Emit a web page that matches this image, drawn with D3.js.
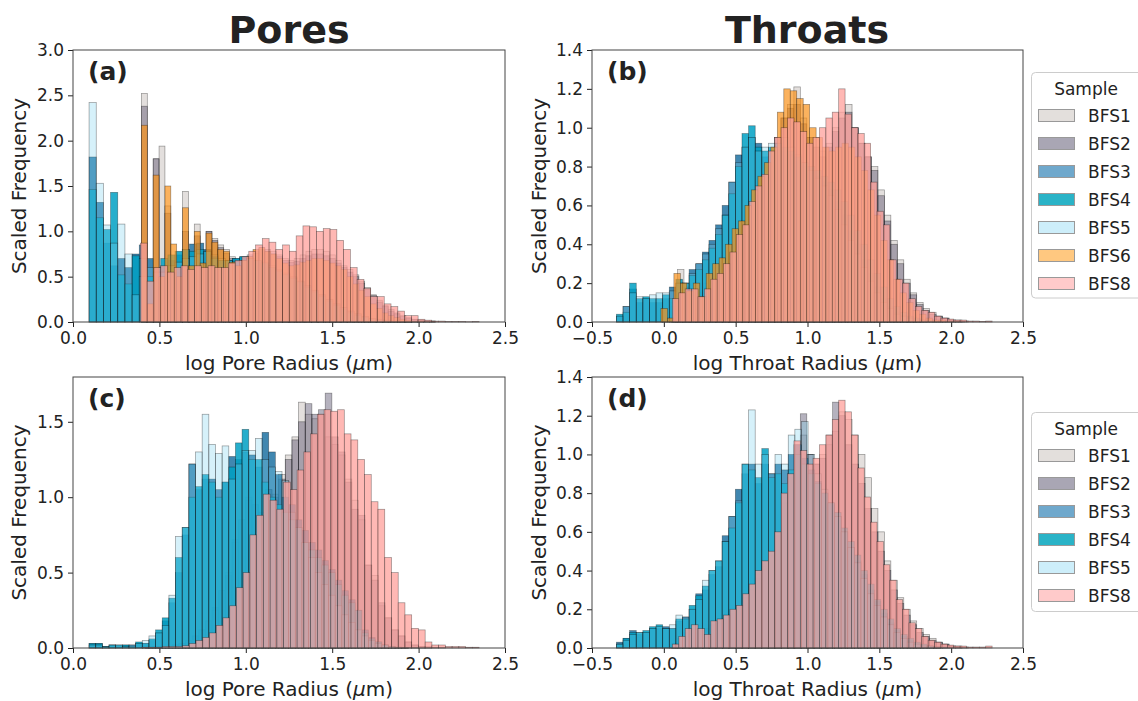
<!DOCTYPE html>
<html>
<head>
<meta charset="utf-8">
<script src="https://cdn.jsdelivr.net/npm/d3@7"></script>
<style>
  body { margin: 0; background: #fff; }
  text { font-family: "DejaVu Sans", sans-serif; fill: #222; }
</style>
</head>
<body>
<svg id="fig" width="1138" height="701"></svg>
<script>
// ---- data: scaled frequency per bin, each series has its own first bin edge and bin width ----
const samplesTop = ["BFS1", "BFS2", "BFS3", "BFS4", "BFS5", "BFS6", "BFS8"];
const samplesBottom = ["BFS1", "BFS2", "BFS3", "BFS4", "BFS5", "BFS8"];

// (a) pores, top row
const aStart = [0.396, 0.396, 0.093, 0.093, 0.093, 0.396, 0.39];
const aWidth = [0.034, 0.034, 0.0415, 0.0415, 0.0415, 0.034, 0.0392];
const a_BFS1 = [2.52, 0.3, 1.8, 1.94, 1.28, 0.55, 0.6, 1.44, 0.62, 1.08, 0.72, 1.0, 0.92, 0.85, 0.8, 0.72, 0.68, 0.7, 0.74, 0.78, 0.82, 0.8, 0.78, 0.74, 0.7, 0.68, 0.7, 0.74, 0.78, 0.8, 0.8, 0.78, 0.74, 0.68, 0.62, 0.58, 0.52, 0.45, 0.38, 0.3, 0.24, 0.18, 0.14, 0.1, 0.07, 0.05, 0.03, 0.02, 0.01, 0.01];
const a_BFS2 = [2.38, 0.2, 1.8, 0.5, 1.2, 0.5, 0.55, 1.0, 0.58, 0.95, 0.65, 1.0, 0.9, 0.82, 0.76, 0.7, 0.66, 0.68, 0.72, 0.76, 0.8, 0.78, 0.75, 0.72, 0.68, 0.66, 0.67, 0.7, 0.73, 0.75, 0.75, 0.73, 0.7, 0.65, 0.6, 0.55, 0.5, 0.43, 0.36, 0.29, 0.22, 0.17, 0.12, 0.09, 0.06, 0.04, 0.03, 0.02, 0.01, 0.01];
const a_BFS3 = [1.82, 0, 1.32, 0, 0.87, 0.62, 0.7, 0.6, 0.75, 0.85, 0.7, 0.55, 0.62, 0.68, 0.74, 0.8, 0.86, 0.87, 0.8, 0.72, 0.68, 0.68, 0.7, 0.72, 0.7, 0.67, 0.64, 0.6, 0.57, 0.53, 0.49, 0.45, 0.4, 0.35, 0.3, 0.25, 0.2, 0.16, 0.12, 0.09, 0.06, 0.04, 0.03, 0.02, 0.01, 0.01, 0.005, 0.003];
const a_BFS4 = [1.46, 0, 1.15, 0, 1.02, 1.43, 0.52, 0.42, 0.73, 0.7, 0.5, 0.6, 0.7, 0.74, 0.78, 0.8, 0.78, 0.8, 0.78, 0.7, 0.68, 0.68, 0.7, 0.72, 0.7, 0.68, 0.65, 0.6, 0.56, 0.52, 0.48, 0.44, 0.38, 0.33, 0.28, 0.23, 0.18, 0.14, 0.1, 0.07, 0.05, 0.03, 0.02, 0.01, 0.01, 0.005, 0.003];
const a_BFS5 = [2.42, 0, 1.53, 1.07, 0.87, 1.08, 0.75, 0.3, 0.5, 0.6, 0.55, 0.55, 0.62, 0.66, 0.7, 0.72, 0.75, 0.78, 0.74, 0.7, 0.68, 0.67, 0.68, 0.7, 0.68, 0.66, 0.62, 0.58, 0.54, 0.5, 0.45, 0.4, 0.35, 0.3, 0.25, 0.2, 0.16, 0.12, 0.09, 0.06, 0.04, 0.03, 0.02, 0.01, 0.01, 0.005];
const a_BFS6 = [2.17, 0.2, 1.62, 0.5, 1.5, 0.86, 0.5, 1.26, 0.62, 1.0, 0.65, 0.98, 0.88, 0.8, 0.78, 0.66, 0.62, 0.68, 0.72, 0.8, 0.82, 0.78, 0.75, 0.7, 0.65, 0.62, 0.63, 0.66, 0.68, 0.7, 0.7, 0.68, 0.65, 0.62, 0.58, 0.5, 0.42, 0.35, 0.28, 0.2, 0.15, 0.1, 0.07, 0.05, 0.03, 0.02, 0.01, 0.01, 0.005, 0.005];
const a_BFS8 = [0.87, 0.45, 0.6, 0.62, 0.55, 0.6, 0.62, 0.58, 0.62, 0.6, 0.62, 0.6, 0.6, 0.65, 0.68, 0.72, 0.78, 0.85, 0.92, 0.88, 0.8, 0.85, 0.78, 0.95, 1.06, 1.05, 1.0, 1.03, 1.02, 0.9, 0.8, 0.6, 0.47, 0.37, 0.28, 0.28, 0.2, 0.17, 0.12, 0.07, 0.07, 0.03, 0.02, 0.01, 0.01, 0.005, 0.005, 0.005, 0.003, 0.005];

// (b) throats, top row
const bStart = [0.05, 0.05, -0.33, -0.33, -0.33, -0.02, 0.06];
const bWidth = [0.045, 0.045, 0.046, 0.046, 0.046, 0.045, 0.0445];
const b_BFS1 = [0.1, 0.27, 0.2, 0.15, 0.15, 0.2, 0.22, 0.25, 0.3, 0.35, 0.42, 0.5, 0.6, 0.68, 0.75, 0.85, 0.95, 1.05, 1.12, 1.21, 1.05, 0.95, 0.9, 0.88, 0.92, 1.0, 1.08, 1.12, 1.0, 0.92, 0.85, 0.8, 0.68, 0.55, 0.42, 0.32, 0.22, 0.15, 0.1, 0.07, 0.05, 0.03, 0.02, 0.01, 0.01, 0.005];
const b_BFS2 = [0.08, 0.2, 0.18, 0.15, 0.14, 0.18, 0.2, 0.24, 0.28, 0.33, 0.4, 0.48, 0.58, 0.65, 0.75, 0.85, 0.95, 1.05, 1.1, 1.12, 1.02, 0.95, 0.9, 0.85, 0.9, 0.98, 1.05, 1.08, 1.0, 0.92, 0.85, 0.78, 0.65, 0.52, 0.4, 0.3, 0.2, 0.14, 0.09, 0.06, 0.04, 0.03, 0.02, 0.01, 0.005];
const b_BFS3 = [0.03, 0.08, 0.17, 0.1, 0.12, 0.1, 0.1, 0.12, 0.18, 0.2, 0.18, 0.27, 0.3, 0.36, 0.42, 0.5, 0.6, 0.72, 0.86, 0.9, 0.95, 0.92, 0.85, 0.88, 0.9, 0.88, 0.86, 0.83, 0.8, 0.78, 0.75, 0.72, 0.68, 0.62, 0.55, 0.47, 0.4, 0.32, 0.25, 0.18, 0.12, 0.08, 0.05, 0.03, 0.02, 0.01, 0.01];
const b_BFS4 = [0.04, 0.05, 0.2, 0.12, 0.13, 0.12, 0.12, 0.14, 0.12, 0.22, 0.2, 0.24, 0.27, 0.32, 0.38, 0.45, 0.55, 0.66, 0.8, 0.97, 1.01, 0.9, 0.88, 0.9, 0.92, 0.9, 0.88, 0.85, 0.82, 0.8, 0.78, 0.75, 0.72, 0.68, 0.62, 0.55, 0.47, 0.4, 0.32, 0.25, 0.18, 0.12, 0.08, 0.05, 0.03, 0.02, 0.01, 0.01, 0.005, 0.005];
const b_BFS5 = [0.03, 0.08, 0.15, 0.13, 0.12, 0.14, 0.15, 0.15, 0.16, 0.2, 0.2, 0.25, 0.3, 0.35, 0.4, 0.48, 0.55, 0.72, 0.82, 0.9, 0.95, 0.88, 0.9, 0.92, 0.92, 0.95, 0.9, 0.86, 0.82, 0.78, 0.74, 0.7, 0.65, 0.58, 0.5, 0.42, 0.35, 0.28, 0.21, 0.15, 0.1, 0.07, 0.04, 0.03, 0.02, 0.01];
const b_BFS6 = [0.07, 0.02, 0.25, 0.2, 0.16, 0.2, 0.13, 0.25, 0.3, 0.33, 0.4, 0.48, 0.52, 0.6, 0.68, 0.75, 0.82, 0.9, 1.08, 1.2, 1.19, 1.15, 1.12, 1.0, 0.95, 0.9, 0.88, 0.9, 0.92, 0.9, 0.85, 0.78, 0.68, 0.55, 0.42, 0.32, 0.22, 0.15, 0.1, 0.06, 0.04, 0.02, 0.01, 0.01, 0.005, 0.003, 0.002];
const b_BFS8 = [0.12, 0.15, 0.17, 0.17, 0.13, 0.17, 0.22, 0.25, 0.3, 0.36, 0.45, 0.5, 0.62, 0.7, 0.76, 0.88, 0.95, 1.0, 1.05, 1.03, 0.98, 0.92, 0.95, 1.0, 1.05, 1.08, 1.2, 1.07, 1.0, 0.97, 0.92, 0.72, 0.57, 0.5, 0.32, 0.22, 0.2, 0.12, 0.08, 0.06, 0.05, 0.03, 0.02, 0.015, 0.01, 0.01, 0.005, 0.005, 0.003, 0.005];

// (c) pores, bottom row
const cStart = [0.42, 0.42, 0.093, 0.093, 0.093, 0.40];
const cWidth = [0.0385, 0.0385, 0.0385, 0.0385, 0.0385, 0.039];
const c_BFS1 = [0, 0, 0, 0.005, 0.01, 0.01, 0.01, 0.02, 0.03, 0.05, 0.08, 0.12, 0.18, 0.25, 0.38, 0.5, 0.7, 0.85, 1.0, 0.95, 0.9, 1.05, 1.02, 1.15, 1.28, 1.4, 1.63, 1.55, 1.52, 1.55, 1.4, 1.35, 1.28, 1.12, 0.98, 0.85, 0.55, 0.48, 0.28, 0.2, 0.12, 0.08, 0.04, 0.02, 0.01, 0.01, 0.005, 0.005];
const c_BFS2 = [0, 0, 0, 0.005, 0.005, 0.01, 0.01, 0.02, 0.03, 0.05, 0.08, 0.12, 0.18, 0.27, 0.38, 0.48, 0.72, 0.85, 0.98, 0.95, 0.9, 1.05, 1.0, 1.12, 1.25, 1.38, 1.5, 1.62, 1.55, 1.58, 1.69, 1.4, 1.3, 1.1, 0.92, 0.88, 0.55, 0.45, 0.3, 0.2, 0.12, 0.08, 0.04, 0.02, 0.01, 0.005];
const c_BFS3 = [0.03, 0, 0.03, 0, 0.01, 0.02, 0.01, 0.02, 0.02, 0.03, 0.03, 0.05, 0.1, 0.18, 0.3, 0.5, 0.75, 1.22, 1.05, 1.12, 1.12, 1.05, 1.1, 1.27, 1.25, 1.3, 1.28, 1.2, 1.43, 1.3, 1.15, 1.0, 0.95, 0.85, 0.78, 0.7, 0.65, 0.58, 0.52, 0.45, 0.38, 0.32, 0.25, 0.12, 0.07, 0.04, 0.02, 0.01, 0.005, 0.003];
const c_BFS4 = [0.03, 0, 0.03, 0, 0.01, 0.02, 0.02, 0.02, 0.01, 0.04, 0.03, 0.06, 0.12, 0.2, 0.33, 0.6, 0.8, 1.0, 1.07, 1.15, 1.1, 1.0, 1.1, 1.2, 1.36, 1.45, 1.25, 1.25, 1.1, 1.0, 0.95, 0.9, 0.85, 0.8, 0.7, 0.65, 0.6, 0.55, 0.5, 0.42, 0.35, 0.3, 0.25, 0.1, 0.06, 0.04, 0.02, 0.01, 0.005, 0.003];
const c_BFS5 = [0.02, 0, 0.02, 0, 0.01, 0.02, 0.02, 0.01, 0.02, 0.03, 0.05, 0.08, 0.1, 0.15, 0.35, 0.74, 0.8, 1.22, 1.3, 1.55, 1.35, 1.29, 1.34, 1.12, 1.22, 1.31, 1.31, 1.39, 1.25, 1.2, 1.17, 1.11, 0.9, 0.8, 0.7, 0.6, 0.5, 0.42, 0.35, 0.28, 0.22, 0.17, 0.12, 0.08, 0.05, 0.03, 0.02, 0.01, 0.005, 0.003];
const c_BFS8 = [0.005, 0.005, 0.005, 0.01, 0.01, 0.01, 0.015, 0.03, 0.05, 0.07, 0.1, 0.15, 0.2, 0.28, 0.4, 0.5, 0.75, 0.88, 1.02, 0.98, 0.92, 1.1, 1.05, 1.18, 1.3, 1.42, 1.55, 1.58, 1.57, 1.58, 1.42, 1.38, 1.25, 1.15, 0.97, 0.92, 0.6, 0.5, 0.3, 0.22, 0.13, 0.12, 0.04, 0.02, 0.02, 0.01, 0.01, 0.01, 0.005, 0.005];

// (d) throats, bottom row
const dStart = [0.05, 0.05, -0.33, -0.33, -0.33, 0.06];
const dWidth = [0.045, 0.045, 0.046, 0.046, 0.046, 0.0445];
const d_BFS1 = [0.02, 0.05, 0.09, 0.1, 0.1, 0.1, 0.12, 0.14, 0.16, 0.19, 0.22, 0.27, 0.32, 0.38, 0.44, 0.5, 0.6, 0.78, 0.9, 1.05, 1.1, 1.0, 0.95, 1.0, 1.05, 1.12, 1.22, 1.18, 1.1, 1.0, 0.88, 0.72, 0.6, 0.45, 0.35, 0.26, 0.2, 0.14, 0.1, 0.07, 0.05, 0.03, 0.02, 0.01, 0.01, 0.005];
const d_BFS2 = [0.02, 0.05, 0.08, 0.1, 0.09, 0.1, 0.12, 0.13, 0.15, 0.18, 0.21, 0.26, 0.3, 0.36, 0.42, 0.48, 0.58, 0.75, 0.88, 1.0, 1.21, 1.0, 0.95, 0.98, 1.1, 1.27, 1.2, 1.05, 0.95, 0.85, 0.72, 0.6, 0.5, 0.4, 0.3, 0.23, 0.17, 0.12, 0.08, 0.06, 0.04, 0.03, 0.02, 0.01, 0.005];
const d_BFS3 = [0.03, 0.05, 0.09, 0.07, 0.08, 0.1, 0.1, 0.11, 0.1, 0.14, 0.16, 0.2, 0.28, 0.3, 0.38, 0.42, 0.58, 0.68, 0.82, 0.9, 0.95, 0.85, 0.95, 0.9, 0.95, 0.92, 1.0, 1.05, 0.98, 0.92, 0.86, 0.8, 0.74, 0.68, 0.6, 0.52, 0.45, 0.38, 0.3, 0.24, 0.18, 0.13, 0.09, 0.06, 0.04, 0.02, 0.01, 0.01, 0.005];
const d_BFS4 = [0.02, 0.05, 0.08, 0.08, 0.09, 0.11, 0.12, 0.1, 0.1, 0.15, 0.15, 0.22, 0.27, 0.32, 0.4, 0.45, 0.55, 0.62, 0.75, 0.95, 0.92, 0.88, 1.03, 0.88, 0.9, 0.85, 0.92, 1.0, 0.95, 0.9, 0.85, 0.8, 0.75, 0.7, 0.62, 0.55, 0.48, 0.4, 0.33, 0.25, 0.2, 0.15, 0.1, 0.07, 0.05, 0.03, 0.02, 0.01, 0.005, 0.005];
const d_BFS5 = [0.02, 0.04, 0.07, 0.08, 0.08, 0.1, 0.11, 0.1, 0.12, 0.17, 0.16, 0.2, 0.25, 0.35, 0.4, 0.45, 0.55, 0.68, 0.76, 0.95, 1.23, 0.95, 1.0, 0.9, 1.0, 0.95, 1.1, 1.13, 1.17, 1.0, 0.9, 0.82, 0.75, 0.68, 0.6, 0.52, 0.44, 0.36, 0.28, 0.22, 0.16, 0.12, 0.08, 0.05, 0.03, 0.02, 0.01, 0.01, 0.005];
const d_BFS8 = [0.02, 0.06, 0.1, 0.12, 0.1, 0.07, 0.14, 0.15, 0.17, 0.2, 0.22, 0.28, 0.33, 0.4, 0.45, 0.5, 0.6, 0.8, 0.9, 1.07, 1.02, 0.95, 0.98, 1.05, 1.1, 1.18, 1.28, 1.22, 1.1, 0.93, 0.78, 0.65, 0.55, 0.43, 0.35, 0.25, 0.2, 0.13, 0.1, 0.06, 0.04, 0.03, 0.02, 0.015, 0.01, 0.01, 0.005, 0.005, 0.005, 0.01];

// ---- styles ----
// bar colours/alphas chosen so the overlaps look like the figure; legend swatches use the flat colours
const sampleFill = {BFS1: "#c8c0bb", BFS2: "#5a556e", BFS3: "#005f96", BFS4: "#00a0c3", BFS5: "#78d2f0", BFS6: "#fa9119", BFS8: "#ffa09b"};
const sampleAlpha = {BFS1: 0.5, BFS2: 0.45, BFS3: 0.75, BFS4: 0.85, BFS5: 0.3, BFS6: 0.7, BFS8: 0.75};
const legendFill = {BFS1: "#e3dfdc", BFS2: "#a9a6b4", BFS3: "#6fa8cc", BFS4: "#2ab3c7", BFS5: "#cdeefa", BFS6: "#ffc880", BFS8: "#ffcaca"};

const svg = d3.select("#fig");
const fmt = d3.format(".1f");

function drawPanel(p) {
    const x = d3.scaleLinear().domain(p.xDomain).range([p.left, p.right]);
    const y = d3.scaleLinear().domain(p.yDomain).range([p.bottom, p.top]);
    const g = svg.append("g");

    // histograms in legend order, later samples on top
    p.samples.forEach((s, k) => {
        const x0 = p.starts[k], w = p.widths[k];
        g.append("g")
            .selectAll("rect")
            .data(p.heights[k])
            .join("rect")
            .filter(d => d > 0)
            .attr("x", (d, i) => x(x0 + i * w))
            .attr("width", (d, i) => x(x0 + (i + 1) * w) - x(x0 + i * w))
            .attr("y", d => y(d))
            .attr("height", d => y(0) - y(d))
            .attr("fill", sampleFill[s])
            .attr("fill-opacity", sampleAlpha[s])
            .attr("stroke", "#000")
            .attr("stroke-opacity", 0.4)
            .attr("stroke-width", 0.7);
    });

    // axes
    const xAxis = g.append("g").attr("transform", `translate(0,${p.bottom})`)
        .call(d3.axisBottom(x).tickValues(p.xTicks).tickFormat(fmt).tickSize(5).tickPadding(5));
    const yAxis = g.append("g").attr("transform", `translate(${p.left},0)`)
        .call(d3.axisLeft(y).tickValues(p.yTicks).tickFormat(fmt).tickSize(5).tickPadding(4));
    [xAxis, yAxis].forEach(a => {
        a.select(".domain").remove();
        a.selectAll("text").attr("font-size", 17).attr("font-family", "DejaVu Sans").attr("fill", "#222");
        a.selectAll("line").attr("stroke", "#222");
    });

    // frame
    g.append("rect")
        .attr("x", p.left).attr("y", p.top)
        .attr("width", p.right - p.left).attr("height", p.bottom - p.top)
        .attr("fill", "none").attr("stroke", "#444").attr("stroke-width", 1);

    // labels
    g.append("text").attr("x", p.left + 15).attr("y", p.top + 30)
        .attr("font-size", 25).attr("font-weight", "bold").attr("fill", "#000").text(p.tag);

    const xl = g.append("text").attr("x", (p.left + p.right) / 2).attr("y", p.xlabelY)
        .attr("text-anchor", "middle").attr("font-size", 20);
    xl.append("tspan").text(p.xlabel + " (");
    xl.append("tspan").attr("font-style", "italic").text("\u03bc");
    xl.append("tspan").text("m)");

    g.append("text")
        .attr("transform", `translate(${p.ylabelX},${(p.top + p.bottom) / 2}) rotate(-90)`)
        .attr("text-anchor", "middle").attr("font-size", 20).text("Scaled Frequency");
}

function drawLegend(samples, top, height) {
    const g = svg.append("g");
    g.append("rect").attr("x", 1031.5).attr("y", top).attr("width", 130).attr("height", height)
        .attr("rx", 4).attr("fill", "#fff").attr("stroke", "#ccc").attr("stroke-width", 1);
    g.append("text").attr("x", 1086).attr("y", top + 22).attr("text-anchor", "middle")
        .attr("font-size", 17).text("Sample");
    samples.forEach((s, i) => {
        const cy = top + 43 + i * 28;
        g.append("rect").attr("x", 1038.5).attr("y", cy - 6).attr("width", 36).attr("height", 12)
            .attr("fill", legendFill[s]).attr("stroke", "#999").attr("stroke-width", 1);
        g.append("text").attr("x", 1088).attr("y", cy + 6).attr("font-size", 17).text(s);
    });
}

const tk = (a, b) => d3.range(Math.round(a * 10), Math.round(b * 10) + 1, 5).map(v => v / 10);

drawPanel({left: 73, right: 505, top: 50, bottom: 322, xDomain: [0, 2.5], yDomain: [0, 3.0],
    xTicks: tk(0, 2.5), yTicks: tk(0, 3.0), tag: "(a)", xlabel: "log Pore Radius", xlabelY: 370, ylabelX: 26,
    samples: samplesTop, starts: aStart, widths: aWidth,
    heights: [a_BFS1, a_BFS2, a_BFS3, a_BFS4, a_BFS5, a_BFS6, a_BFS8]});

drawPanel({left: 592, right: 1023, top: 50, bottom: 322, xDomain: [-0.5, 2.5], yDomain: [0, 1.4],
    xTicks: tk(-0.5, 2.5), yTicks: d3.range(0, 8).map(v => v * 0.2), tag: "(b)", xlabel: "log Throat Radius", xlabelY: 370, ylabelX: 546,
    samples: samplesTop, starts: bStart, widths: bWidth,
    heights: [b_BFS1, b_BFS2, b_BFS3, b_BFS4, b_BFS5, b_BFS6, b_BFS8]});

drawPanel({left: 73, right: 505, top: 377, bottom: 648, xDomain: [0, 2.5], yDomain: [0, 1.797],
    xTicks: tk(0, 2.5), yTicks: tk(0, 1.5), tag: "(c)", xlabel: "log Pore Radius", xlabelY: 696, ylabelX: 26,
    samples: samplesBottom, starts: cStart, widths: cWidth,
    heights: [c_BFS1, c_BFS2, c_BFS3, c_BFS4, c_BFS5, c_BFS8]});

drawPanel({left: 592, right: 1023, top: 377, bottom: 648, xDomain: [-0.5, 2.5], yDomain: [0, 1.4],
    xTicks: tk(-0.5, 2.5), yTicks: d3.range(0, 8).map(v => v * 0.2), tag: "(d)", xlabel: "log Throat Radius", xlabelY: 696, ylabelX: 546,
    samples: samplesBottom, starts: dStart, widths: dWidth,
    heights: [d_BFS1, d_BFS2, d_BFS3, d_BFS4, d_BFS5, d_BFS8]});

drawLegend(samplesTop, 72.5, 225.5);
drawLegend(samplesBottom, 412.5, 199);

// column titles
svg.append("text").attr("x", 289).attr("y", 43).attr("text-anchor", "middle")
    .attr("font-size", 38).attr("font-weight", "bold").attr("fill", "#000").text("Pores");
svg.append("text").attr("x", 807).attr("y", 43).attr("text-anchor", "middle")
    .attr("font-size", 38).attr("font-weight", "bold").attr("fill", "#000").text("Throats");
</script>
</body>
</html>
